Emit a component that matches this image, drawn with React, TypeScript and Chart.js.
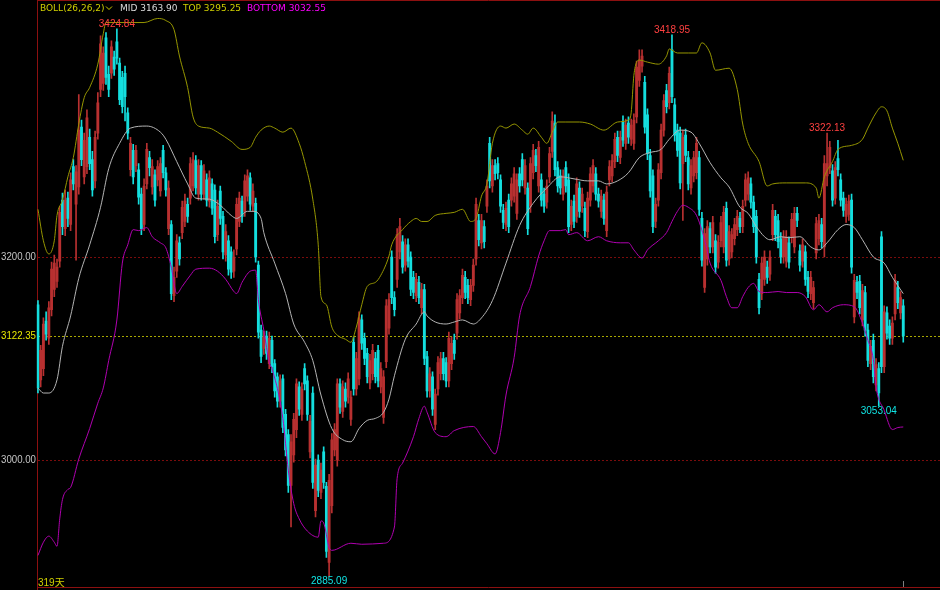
import React, { useEffect, useRef } from 'react';
import { Chart, registerables } from 'chart.js';

Chart.register(...registerables);

// ---------- data ----------
const opens = [
  3153,3079,3090,3137,3120,3148,3168,3176,3196,3256,
  3228,3258,3232,3289,3252,3269,3328,3279,3289,3318,
  3296,3275,3322,3365,3371,3416,3380,3381,3397,3412,
  3391,3377,3381,3342,3286,3305,3290,3286,3262,3232,
  3272,3298,3269,3281,3276,3265,3305,3283,3228,3232,
  3162,3186,3214,3224,3235,3252,3258,3270,3295,3262,
  3290,3262,3276,3255,3272,3266,3222,3265,3240,3202,
  3216,3205,3186,3208,3235,3255,3245,3260,3278,3250,
  3253,3192,3128,3110,3122,3095,3118,3095,3082,3058,
  3080,3045,3025,2975,3005,3030,3072,3045,3090,3078,
  3008,3066,2950,3000,2968,3008,2974,2899,2955,3010,
  3000,3075,3048,3070,3062,3040,3116,3070,3080,3138,
  3120,3105,3076,3085,3100,3108,3072,3042,3097,3130,
  3200,3160,3178,3205,3215,3192,3212,3200,3180,3162,
  3175,3150,3168,3102,3068,3082,3035,3070,3085,3100,
  3096,3078,3095,3118,3125,3145,3160,3180,3172,3158,
  3172,3198,3236,3214,3230,3250,3312,3270,3290,3292,
  3276,3246,3232,3256,3256,3260,3243,3282,3296,3268,
  3268,3250,3283,3300,3270,3276,3262,3254,3279,3304,
  3332,3288,3280,3262,3288,3276,3232,3255,3240,3268,
  3250,3248,3225,3256,3270,3282,3262,3245,3256,3226,
  3276,3280,3294,3318,3298,3333,3312,3332,3316,3312,
  3338,3374,3388,3372,3340,3300,3280,3235,3256,3283,
  3325,3364,3352,3404,3350,3325,3322,3292,3320,3298,
  3268,3280,3283,3298,3238,3170,3198,3228,3210,3216,
  3195,3216,3210,3248,3198,3205,3218,3227,3238,3230,
  3256,3262,3272,3254,3240,3178,3164,3178,3190,3183,
  3222,3240,3236,3218,3200,3196,3214,3220,3210,3243,
  3206,3196,3205,3180,3164,3155,3204,3218,3232,3210,
  3280,3288,3285,3258,3297,3276,3258,3240,3242,3256,
  3141,3175,3176,3138,3165,3128,3095,3118,3074,3090,
  3220,3092,3145,3132,3120,3144,3170,3145,3152,
];

const closes = [
  3071,3108,3134,3124,3150,3188,3194,3190,3244,3230,
  3256,3238,3276,3272,3284,3325,3296,3315,3337,3292,
  3266,3318,3352,3410,3401,3377,3365,3407,3385,3396,
  3355,3348,3358,3322,3312,3279,3305,3259,3228,3270,
  3306,3288,3289,3256,3289,3292,3283,3266,3268,3164,
  3180,3216,3198,3249,3255,3240,3292,3296,3268,3290,
  3262,3285,3256,3278,3248,3220,3250,3238,3205,3225,
  3188,3185,3200,3252,3258,3240,3275,3280,3252,3265,
  3200,3126,3102,3121,3105,3120,3092,3068,3058,3078,
  3032,3010,2975,3018,3040,3075,3050,3070,3075,3045,
  3038,2978,2995,2970,2990,2978,2910,2980,3020,3030,
  3075,3052,3072,3058,3080,3062,3070,3100,3140,3115,
  3100,3082,3098,3108,3082,3078,3090,3082,3152,3158,
  3160,3148,3222,3230,3190,3212,3196,3168,3165,3178,
  3160,3168,3100,3068,3085,3050,3065,3096,3100,3085,
  3078,3120,3115,3105,3158,3162,3182,3165,3160,3172,
  3192,3252,3217,3236,3215,3270,3275,3290,3282,3283,
  3250,3234,3248,3230,3272,3282,3276,3270,3276,3290,
  3228,3292,3305,3290,3308,3256,3250,3270,3302,3334,
  3286,3270,3268,3280,3270,3230,3250,3235,3272,3245,
  3262,3226,3258,3282,3290,3262,3255,3260,3238,3264,
  3289,3295,3316,3300,3318,3315,3330,3318,3330,3335,
  3387,3394,3398,3328,3302,3265,3230,3252,3286,3325,
  3354,3348,3381,3358,3320,3305,3273,3318,3300,3272,
  3290,3298,3312,3247,3197,3223,3230,3210,3234,3190,
  3215,3234,3244,3197,3225,3222,3232,3240,3230,3250,
  3276,3278,3254,3230,3200,3150,3194,3200,3180,3200,
  3246,3222,3215,3200,3220,3220,3195,3237,3243,3236,
  3192,3212,3178,3166,3180,3170,3233,3236,3215,3292,
  3292,3308,3256,3288,3286,3256,3246,3252,3255,3190,
  3177,3165,3150,3167,3128,3098,3112,3082,3094,3066,
  3092,3146,3125,3120,3135,3177,3155,3160,3122.35,
];

const highs = [
  3157,3113,3140,3146,3156,3195,3202,3198,3250,3263,
  3266,3264,3283,3296,3290,3360,3335,3322,3345,3326,
  3304,3324,3362,3418,3407,3421,3388,3413,3403,3424.84,
  3396,3383,3388,3347,3318,3311,3310,3292,3268,3277,
  3312,3304,3296,3286,3295,3298,3310,3288,3275,3236,
  3190,3222,3220,3255,3262,3258,3298,3303,3300,3296,
  3295,3291,3282,3285,3277,3271,3256,3270,3245,3232,
  3221,3210,3207,3258,3264,3260,3281,3286,3283,3272,
  3258,3196,3133,3127,3127,3126,3122,3099,3086,3084,
  3084,3050,3030,3025,3046,3080,3077,3076,3095,3083,
  3044,3072,3001,3005,2997,3013,2978,2986,3026,3036,
  3080,3080,3078,3076,3086,3068,3121,3106,3146,3143,
  3125,3110,3104,3114,3106,3113,3096,3088,3158,3164,
  3206,3166,3228,3238,3221,3218,3218,3205,3186,3184,
  3181,3174,3173,3107,3091,3087,3070,3102,3106,3106,
  3101,3126,3121,3124,3164,3168,3188,3186,3178,3178,
  3198,3258,3242,3242,3236,3276,3318,3296,3296,3298,
  3281,3252,3254,3262,3278,3288,3282,3288,3302,3296,
  3273,3298,3311,3306,3314,3282,3268,3276,3308,3343,
  3340,3294,3286,3286,3294,3282,3256,3261,3278,3274,
  3268,3254,3264,3288,3296,3288,3268,3266,3262,3270,
  3295,3301,3322,3324,3324,3339,3336,3338,3336,3341,
  3393,3404,3404,3378,3346,3306,3286,3258,3292,3331,
  3360,3370,3387,3418.95,3356,3331,3328,3325,3326,3304,
  3296,3304,3318,3304,3244,3228,3236,3234,3240,3222,
  3221,3240,3250,3254,3231,3228,3238,3246,3244,3256,
  3282,3284,3278,3260,3246,3184,3200,3206,3196,3206,
  3252,3246,3242,3224,3226,3226,3220,3243,3249,3249,
  3212,3218,3211,3186,3186,3176,3239,3242,3238,3300,
  3322.13,3314,3291,3294,3315,3282,3264,3258,3261,3262,
  3183,3181,3182,3173,3171,3134,3118,3124,3100,3096,
  3225,3152,3151,3138,3141,3183,3176,3166,3158,
];

const lows = [
  3066,3072,3083,3118,3114,3142,3161,3170,3190,3222,
  3221,3230,3226,3266,3197,3262,3290,3272,3282,3286,
  3260,3268,3316,3358,3364,3370,3358,3376,3379,3390,
  3350,3342,3334,3316,3280,3272,3284,3252,3222,3226,
  3267,3280,3262,3250,3270,3260,3278,3260,3222,3158,
  3156,3180,3192,3218,3230,3234,3252,3265,3262,3256,
  3256,3257,3250,3249,3242,3214,3216,3232,3198,3196,
  3182,3179,3180,3202,3230,3234,3240,3255,3246,3245,
  3195,3120,3096,3104,3099,3090,3086,3062,3052,3052,
  3027,3004,2968,2934,2998,3022,3044,3039,3069,3039,
  3002,2972,2944,2964,2962,2972,2904,2885.09,2948,3004,
  2994,3046,3042,3052,3056,3034,3064,3064,3074,3109,
  3094,3076,3070,3079,3076,3072,3066,3036,3091,3124,
  3154,3142,3170,3198,3184,3186,3190,3162,3159,3156,
  3154,3144,3094,3062,3062,3044,3030,3064,3079,3079,
  3072,3072,3089,3099,3119,3139,3154,3159,3154,3152,
  3166,3192,3211,3208,3209,3244,3268,3264,3276,3277,
  3244,3228,3226,3224,3250,3254,3237,3264,3270,3262,
  3222,3244,3277,3284,3264,3250,3244,3248,3273,3298,
  3280,3264,3262,3256,3264,3224,3226,3229,3234,3239,
  3244,3220,3219,3250,3264,3256,3249,3239,3232,3220,
  3270,3274,3288,3294,3292,3309,3306,3312,3310,3306,
  3332,3368,3382,3322,3296,3259,3224,3229,3250,3277,
  3319,3342,3346,3352,3314,3299,3267,3236,3294,3266,
  3262,3274,3277,3241,3191,3165,3192,3204,3204,3184,
  3189,3210,3204,3191,3192,3199,3212,3221,3224,3224,
  3250,3256,3248,3224,3194,3144,3158,3172,3174,3177,
  3216,3216,3209,3194,3194,3190,3189,3214,3204,3230,
  3186,3190,3172,3160,3158,3149,3198,3212,3209,3200,
  3270,3282,3250,3252,3280,3250,3240,3234,3236,3184,
  3135,3159,3144,3132,3122,3092,3089,3076,3068,3053.04,
  3086,3086,3119,3114,3114,3138,3149,3139,3116,
];

// Bollinger band values, read at the candle indexes listed beside them
const topIdx = [
  0,2,4,6,7,9,11,13,15,17,19,22,24,25,30,34,39,44,47,50,
  52,55,57,59,63,66,71,75,78,80,82,85,87,90,93,96,98,101,103,104,
  106,108,110,113,115,117,119,121,124,126,129,130,134,137,139,141,143,146,150,153,
  156,159,161,163,165,167,170,172,175,178,180,182,185,187,189,191,194,199,203,208,
  213,217,218,219,221,224,228,231,232,235,239,242,244,247,249,254,257,259,261,265,
  268,270,275,282,286,287,289,292,294,299,303,305,308,310,312,314,316,318,
];
const topVals = [
  3247,3216,3203,3216,3241,3256,3279,3298,3331,3357,3367,3390,3420,3431,3431,3431,3431,3435,3433,3424,
  3398,3367,3338,3329,3327,3323,3314,3306,3308,3318,3325,3329,3327,3323,3327,3312,3294,3257,3212,3161,
  3153,3131,3123,3119,3116,3131,3153,3171,3175,3182,3201,3212,3227,3235,3238,3235,3235,3241,3243,3244,
  3247,3235,3238,3260,3272,3312,3329,3327,3331,3325,3321,3327,3318,3312,3323,3333,3333,3333,3331,3325,
  3333,3335,3342,3379,3394,3392,3390,3398,3405,3401,3401,3401,3411,3401,3384,3386,3365,3331,3312,3294,
  3270,3272,3273,3273,3268,3258,3279,3294,3306,3310,3316,3327,3342,3348,3344,3327,3312,3295.25,
];

const midIdx = [
  0,2,4,7,9,12,15,19,23,26,30,34,40,45,47,51,55,58,63,67,
  71,73,77,79,82,83,87,91,94,98,101,104,108,112,115,118,121,124,127,129,
  131,135,139,142,143,146,150,153,156,160,163,167,172,177,182,187,192,197,202,206,
  209,213,217,221,225,229,232,236,240,243,247,251,254,258,261,264,267,269,273,276,
  280,284,287,290,294,297,300,303,307,311,314,318,
];
const midVals = [
  3071,3066,3066,3079,3112,3142,3179,3212,3249,3287,3312,3327,3329,3323,3316,3294,3272,3258,3257,3251,
  3241,3238,3245,3245,3238,3224,3194,3164,3134,3116,3098,3064,3031,3020,3018,3031,3039,3041,3047,3060,
  3083,3119,3134,3146,3142,3136,3134,3136,3138,3134,3140,3157,3194,3231,3253,3268,3279,3277,3275,3275,
  3272,3275,3283,3298,3303,3306,3316,3325,3323,3312,3293,3278,3269,3249,3243,3230,3220,3217,3220,3219,
  3220,3210,3207,3214,3227,3232,3229,3217,3200,3194,3180,3163.9,
];

const bottomIdx = [
  0,2,4,6,7,8,9,11,12,15,19,22,24,26,29,31,33,35,37,40,
  42,45,47,49,51,53,56,58,63,66,69,72,73,75,78,80,81,83,85,86,
  90,92,94,96,99,103,104,105,107,108,115,119,127,131,132,134,138,140,142,143,
  146,150,153,160,163,165,168,170,172,175,177,181,184,186,188,192,194,195,198,202,
  206,209,214,217,219,222,224,228,231,233,235,237,239,242,245,247,251,253,255,257,
  259,261,263,265,268,272,275,279,282,285,287,290,292,296,300,303,305,307,308,311,
  314,316,318,
];
const bottomVals = [
  2906,2919,2925,2919,2915,2942,2961,2971,2973,3001,3031,3056,3071,3098,3138,3194,3212,3227,3226,3229,
  3220,3214,3209,3190,3164,3171,3182,3188,3189,3186,3178,3166,3164,3175,3186,3187,3158,3128,3096,3090,
  3041,2990,2957,2942,2930,2924,2940,2938,2914,2911,2918,2917,2918,2934,2982,2997,3023,3041,3053,3047,
  3027,3023,3029,3033,3023,3016,3006,3027,3064,3101,3142,3171,3201,3216,3226,3226,3227,3222,3224,3216,
  3220,3216,3214,3214,3207,3199,3207,3216,3224,3235,3245,3251,3249,3241,3217,3194,3177,3161,3150,3150,
  3161,3170,3174,3166,3165,3166,3165,3165,3161,3148,3153,3146,3150,3153,3151,3135,3118,3099,3072,3049,
  3030,3032,3032.55,
];

const yTickValues = [3200, 3000];
const highMarks = [29, 233, 290];
const lowMarks = [107, 309];
const emptySlotsRight = 13;
const bollParams = '26,26,2';

// ---------- styles ----------
const UP = '#b83030';
const DOWN = '#14dede';
const TOP_C = '#969600';
const MID_C = '#b4b4b4';
const BOT_C = '#b000b0';
const FRAME_C = '#8c1010';

const n = opens.length;
const labels = Array.from({ length: n + emptySlotsRight }, (_, i) => String(i));
const spread = (idx: number[], vals: number[]) => {
  const arr: (number | null)[] = new Array(n).fill(null);
  idx.forEach((k, j) => { arr[k] = vals[j]; });
  return arr;
};
const isUp = (i: number) => closes[i] >= opens[i];
const candleColor = (c: any) => (isUp(c.dataIndex) ? UP : DOWN);

const decor = {
  id: 'decor',
  beforeDraw(chart: any) {
    const { ctx, width, height } = chart;
    ctx.save();
    ctx.fillStyle = '#000';
    ctx.fillRect(0, 0, width, height);
    ctx.restore();
  },
  beforeDatasetsDraw(chart: any) {
    const { ctx } = chart;
    const ys = chart.scales.y;
    const area = chart.chartArea;
    const W = chart.width;
    ctx.save();
    ctx.lineWidth = 1;
    ctx.setLineDash([2, 2]);
    ctx.strokeStyle = '#7a0c0c';
    yTickValues.forEach((v) => {
      const py = Math.round(ys.getPixelForValue(v)) + 0.5;
      ctx.beginPath(); ctx.moveTo(38, py); ctx.lineTo(W, py); ctx.stroke();
    });
    const last = closes[n - 1];
    const pl = Math.round(ys.getPixelForValue(last)) + 0.5;
    ctx.strokeStyle = '#a8a800';
    ctx.beginPath(); ctx.moveTo(38, pl); ctx.lineTo(W, pl); ctx.stroke();
    ctx.setLineDash([]);
    ctx.strokeStyle = FRAME_C;
    ctx.beginPath();
    ctx.moveTo(37.5, 0); ctx.lineTo(37.5, chart.height);
    ctx.moveTo(37, 0.5); ctx.lineTo(W, 0.5);
    ctx.moveTo(37, Math.round(area.bottom) + 0.5); ctx.lineTo(W, Math.round(area.bottom) + 0.5);
    ctx.stroke();
    ctx.restore();
  },
  afterDatasetsDraw(chart: any) {
    const { ctx } = chart;
    const xs = chart.scales.x;
    const ys = chart.scales.y;
    const area = chart.chartArea;
    ctx.save();
    // y labels
    ctx.font = '10px "Liberation Sans", Arial, sans-serif';
    ctx.textAlign = 'left';
    ctx.textBaseline = 'middle';
    ctx.fillStyle = '#c4c4c4';
    yTickValues.forEach((v) => {
      ctx.fillText(v.toFixed(2), 1, Math.round(ys.getPixelForValue(v)), 35);
    });
    ctx.fillStyle = '#e8e800';
    ctx.fillText(closes[n - 1].toFixed(2), 1, Math.round(ys.getPixelForValue(closes[n - 1])), 35);

    // extreme annotations
    ctx.font = '10px "Liberation Sans", Arial, sans-serif';
    ctx.textAlign = 'center';
    ctx.fillStyle = '#ff4040';
    ctx.textBaseline = 'alphabetic';
    highMarks.forEach((i) => {
      ctx.fillText(highs[i].toFixed(2), xs.getPixelForValue(i), ys.getPixelForValue(highs[i]) - 2);
    });
    ctx.fillStyle = '#10e4e4';
    ctx.textBaseline = 'top';
    lowMarks.forEach((i) => {
      ctx.fillText(lows[i].toFixed(2), xs.getPixelForValue(i), ys.getPixelForValue(lows[i]) + 0);
    });

    // legend
    ctx.textAlign = 'left';
    ctx.textBaseline = 'alphabetic';
    ctx.font = '9px "DejaVu Sans", sans-serif';
    const items: [string, string, number][] = [
      [`BOLL(${bollParams})`, '#d0d000', 40],
      [`MID ${midVals[midVals.length - 1].toFixed(2)}`, '#dcdcdc', 120],
      [`TOP ${topVals[topVals.length - 1].toFixed(2)}`, '#d0d000', 183],
      [`BOTTOM ${bottomVals[bottomVals.length - 1].toFixed(2)}`, '#ff00ff', 247],
    ];
    items.forEach(([t, c, x]) => { ctx.fillStyle = c; ctx.fillText(t, x, 11); });
    ctx.strokeStyle = '#d0d000';
    ctx.lineWidth = 1;
    ctx.beginPath(); ctx.moveTo(106, 6.5); ctx.lineTo(109, 9.5); ctx.lineTo(112, 6.5); ctx.stroke();

    // day count
    ctx.font = '10px "Liberation Sans", "Noto Sans CJK SC", sans-serif';
    ctx.fillStyle = '#d0d000';
    ctx.textBaseline = 'alphabetic';
    ctx.fillText(`${n}天`, 38, 586);

    // last-bar tick
    const lx = Math.round(xs.getPixelForValue(n - 1)) + 0.5;
    ctx.strokeStyle = '#808080';
    ctx.beginPath(); ctx.moveTo(lx, area.bottom - 6); ctx.lineTo(lx, area.bottom); ctx.stroke();
    ctx.restore();
  },
};

export default function App() {
  const ref = useRef<HTMLCanvasElement>(null);
  useEffect(() => {
    document.body.style.margin = '0';
    document.body.style.background = '#000';
    const chart = new Chart(ref.current as HTMLCanvasElement, {
      type: 'bar',
      data: {
        labels,
        datasets: [
          {
            type: 'line', label: 'MID', data: spread(midIdx, midVals) as any,
            borderColor: MID_C, borderWidth: 1, pointRadius: 0, spanGaps: true,
            cubicInterpolationMode: 'monotone', order: 0,
          },
          {
            type: 'line', label: 'TOP', data: spread(topIdx, topVals) as any,
            borderColor: TOP_C, borderWidth: 1, pointRadius: 0, spanGaps: true,
            cubicInterpolationMode: 'monotone', order: 0,
          },
          {
            type: 'line', label: 'BOTTOM', data: spread(bottomIdx, bottomVals) as any,
            borderColor: BOT_C, borderWidth: 1, pointRadius: 0, spanGaps: true,
            cubicInterpolationMode: 'monotone', order: 0,
          },
          {
            type: 'bar', label: 'body', data: opens.map((o, i) => [o, closes[i]]) as any,
            backgroundColor: candleColor, borderWidth: 0, barThickness: 2.2,
            grouped: false, order: 1,
          },
          {
            type: 'bar', label: 'wick', data: lows.map((l, i) => [l, highs[i]]) as any,
            backgroundColor: candleColor, borderWidth: 0, barThickness: 1,
            grouped: false, order: 2,
          },
        ],
      },
      options: {
        responsive: false,
        devicePixelRatio: 1,
        animation: false,
        events: [],
        layout: { padding: { left: 36.6, right: 0, top: 0, bottom: 3 } },
        plugins: { legend: { display: false }, tooltip: { enabled: false } },
        scales: {
          x: { display: false, offset: true, grid: { display: false } },
          y: { display: false, min: 2874.9, max: 3453.2, grid: { display: false } },
        },
      },
      plugins: [decor],
    } as any);
    return () => chart.destroy();
  }, []);
  return (
    <div style={{ width: 940, height: 590, background: '#000' }}>
      <canvas ref={ref} width={940} height={590} style={{ display: 'block' }} />
    </div>
  );
}
